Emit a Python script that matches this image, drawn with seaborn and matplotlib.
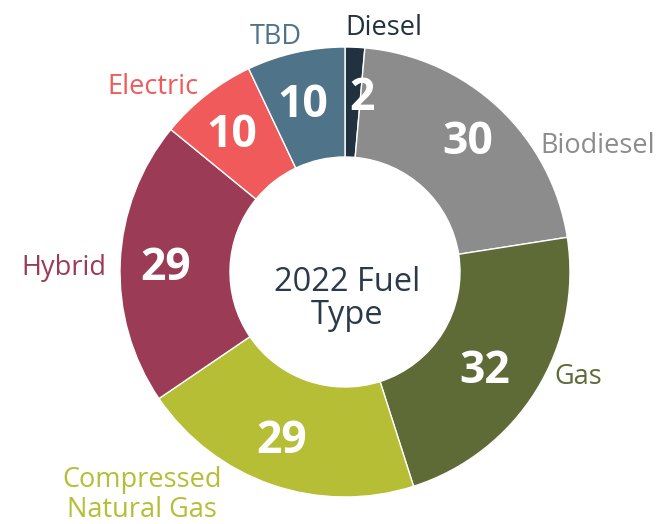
import matplotlib
matplotlib.use("Agg")
import matplotlib.pyplot as plt
import seaborn as sns

# data (clockwise from 12 o'clock)
fuel_types = ["Diesel", "Biodiesel", "Gas", "Compressed\nNatural Gas", "Hybrid", "Electric", "TBD"]
vehicle_counts = [2, 30, 32, 29, 29, 10, 10]
fuel_colors = ["#22313f", "#8c8c8c", "#5f6b37", "#b5be35", "#9b3b56", "#f05a5b", "#4f7489"]
center_title = "2022 Fuel\nType"

sns.set_theme(style="white")
plt.rcParams["font.family"] = ["Open Sans", "DejaVu Sans"]

fig = plt.figure(figsize=(6.64, 5.24), dpi=100)
ax = fig.add_axes([0, 0, 1, 1])

outer_r = 225
wedges, _, value_texts = ax.pie(
    vehicle_counts,
    colors=fuel_colors,
    startangle=90,
    counterclock=False,
    radius=outer_r,
    autopct=lambda p: f"{p * sum(vehicle_counts) / 100:.0f}",
    pctdistance=0.755,
    wedgeprops={"width": 110, "edgecolor": "white", "linewidth": 1},
    textprops={"color": "white", "fontsize": 32, "fontweight": "bold"},
)

# small hand nudges of the numbers so they sit like in the original
nudges = [(10, 4), (7, 5), (-5, -10), (-8, -9), (-10, -4), (-9, 3), (-5, 1)]
for txt, (dx, dy) in zip(value_texts, nudges):
    x, y = txt.get_position()
    txt.set_position((x + dx, y + dy))

# outer category labels, placed by hand like in the original
label_pos = {
    "Diesel": (39, 244),
    "Biodiesel": (253, 126),
    "Gas": (233, -105),
    "Compressed\nNatural Gas": (-203, -223),
    "Hybrid": (-281, 4),
    "Electric": (-192, 185),
    "TBD": (-69, 235),
}
for name, color in zip(fuel_types, fuel_colors):
    x, y = label_pos[name]
    ax.text(x, y, name, color=color, fontsize=19.5, ha="center", va="center", linespacing=1.05)

ax.text(2, -27, center_title, color="#2b3a4a", fontsize=23.5, ha="center", va="center",
        linespacing=1.0)

ax.set_xlim(-345, 664 - 345)
ax.set_ylim(-(524 - 272), 272)
ax.set_aspect("equal")
ax.axis("off")

fig.savefig("out.png", dpi=100, facecolor="white")
plt.close(fig)
